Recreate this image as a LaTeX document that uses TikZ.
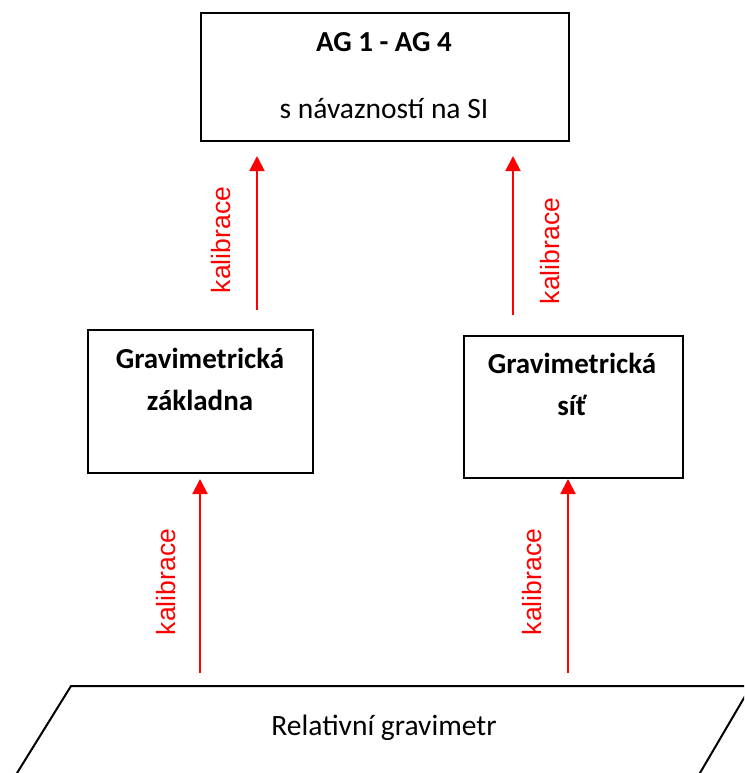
\documentclass[tikz,border=0pt]{standalone}
\usepackage{fontspec}
\setmainfont{Carlito}
\newfontfamily\arialf{Liberation Sans}
\usetikzlibrary{arrows.meta}
\begin{document}
\begin{tikzpicture}[x=1pt,y=-1pt,
 boxst/.style={draw=black,line width=2pt,inner sep=0pt,anchor=north west},
 btxt/.style={font=\fontsize{29}{34}\selectfont\bfseries,anchor=base,inner sep=0pt},
 ntxt/.style={font=\fontsize{29.5}{34}\selectfont,anchor=base,inner sep=0pt},
 cal/.style={draw=red,line width=2pt,-{Triangle[width=15pt,length=15pt]}},
 callab/.style={text=red,font=\arialf\fontsize{26.5}{30}\selectfont,rotate=90,inner sep=0pt}]
\useasboundingbox (0,0) rectangle (744,773);
% top box
\node[boxst,minimum width=368pt,minimum height=128pt] (ag) at (200,12) {};
\node[btxt] (agt1) at (384,52) {AG 1 - AG 4};
\node[ntxt] (agt2) at (384,118) {s návazností na SI};
% left box
\node[boxst,minimum width=225pt,minimum height=143pt] (zb) at (87,329) {};
\node[btxt] (zbt1) at (200,368) {Gravimetrická};
\node[btxt] (zbt2) at (200,410) {základna};
% right box
\node[boxst,minimum width=219pt,minimum height=142pt] (sit) at (463,335) {};
\node[btxt] (sitt1) at (572,373) {Gravimetrická};
\node[btxt] (sitt2) at (572,415) {síť};
% parallelogram
\begin{scope}
\clip (0,0) rectangle (744,773);
\draw[line width=2pt,line join=miter] (6.5,790) -- (71,686) coordinate (pl) -- (751,686) coordinate (pr) -- (690,790) -- cycle;
\end{scope}
\node[ntxt] (rel) at (384,735) {Relativní gravimetr};
% arrows
\coordinate (a1) at (257,310);
\coordinate (a2) at (513,315);
\coordinate (a3) at (200,673);
\coordinate (a4) at (568,673);
\draw[cal,shorten >=14pt] (a1) -- (a1 |- ag.south);
\draw[cal,shorten >=14pt] (a2) -- (a2 |- ag.south);
\draw[cal,shorten >=5pt] (a3) -- (a3 |- zb.south);
\draw[cal] (a4) -- (a4 |- sit.south);
% labels
\node[callab] (k1) at (221,240) {kalibrace};
\node[callab] (k2) at (550,251) {kalibrace};
\node[callab] (k3) at (166,582) {kalibrace};
\node[callab] (k4) at (532,582) {kalibrace};
\end{tikzpicture}
\end{document}
